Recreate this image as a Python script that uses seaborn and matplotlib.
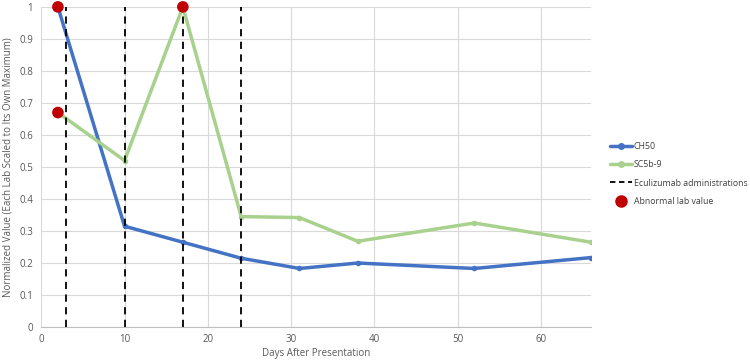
"""
Normalized CH50 and SC5b-9 after presentation
"""

import pandas as pd
import matplotlib.pyplot as plt
from matplotlib.lines import Line2D
from matplotlib.ticker import MultipleLocator
import seaborn as sns

# values
days = [2, 10, 17, 24, 31, 38, 52, 66]
ch50 = [1.0, 0.315, 0.265, 0.215, 0.183, 0.200, 0.183, 0.217]
sc5b9 = [0.67, 0.52, 1.0, 0.345, 0.342, 0.268, 0.325, 0.265]
eculizumab_days = [3, 10, 17, 24]
abnormal_days = [2, 2, 17]
abnormal_vals = [1.0, 0.67, 1.0]

df = pd.DataFrame({"Day": days + days,
                   "Value": ch50 + sc5b9,
                   "Lab": ["CH50"] * len(days) + ["SC5b-9"] * len(days)})

sns.set_style("white")
plt.rcParams["font.family"] = ["Open Sans", "DejaVu Sans"]

fig = plt.figure(figsize=(7.5, 3.63), dpi=100)
ax = fig.add_axes([0.055, 0.099, 0.733, 0.882])

palette = {"CH50": "#4472C4", "SC5b-9": "#A9D18E"}
sns.lineplot(data=df, x="Day", y="Value", hue="Lab", palette=palette,
             marker="o", markersize=4, markeredgewidth=0, linewidth=2.5,
             legend=False, ax=ax, zorder=3)

for d in eculizumab_days:
    ax.axvline(d, color="black", linestyle=(0, (4, 3)), linewidth=1.3, zorder=4)

sns.scatterplot(x=abnormal_days, y=abnormal_vals, color="#C00000", s=70,
                edgecolor="none", ax=ax, zorder=5, clip_on=False)

ax.set_xlim(0, 66)
ax.set_ylim(0, 1)
ax.xaxis.set_major_locator(MultipleLocator(10))
ax.xaxis.set_minor_locator(MultipleLocator(1))
ax.set_yticks([i / 10 for i in range(11)])
ax.set_yticklabels(["0", "0.1", "0.2", "0.3", "0.4", "0.5", "0.6", "0.7", "0.8", "0.9", "1"])
ax.grid(True, which="major", color="#d9d9d9", linewidth=0.8)
for s in ["top", "right", "left"]:
    ax.spines[s].set_visible(False)
ax.spines["bottom"].set_color("#bfbfbf")
ax.tick_params(axis="y", which="major", labelsize=7, colors="#595959", length=0, pad=6)
ax.tick_params(axis="x", which="major", labelsize=7, colors="#595959", length=3,
               color="#bfbfbf", pad=2)
ax.tick_params(axis="x", which="minor", length=3, color="#bfbfbf", direction="out")

ax.set_xlabel("Days After Presentation", fontsize=7, color="#595959", labelpad=2)
ax.set_ylabel("Normalized Value (Each Lab Scaled to Its Own Maximum)", fontsize=7,
              color="#595959", labelpad=4)

handles = [
    Line2D([], [], color="#4472C4", marker="o", markersize=4, linewidth=2.5),
    Line2D([], [], color="#A9D18E", marker="o", markersize=4, linewidth=2.5),
    Line2D([], [], color="black", linestyle=(0, (3, 2)), linewidth=1.3),
    Line2D([], [], color="#C00000", marker="o", markersize=8, linestyle="none"),
]
labels = ["CH50", "SC5b-9", "Eculizumab administrations", "Abnormal lab value"]
fig.legend(handles, labels, loc="upper left", bbox_to_anchor=(0.808, 0.618),
           frameon=False, fontsize=6.3, handlelength=2.6, handletextpad=0.2,
           labelspacing=1.05, labelcolor="#404040", borderaxespad=0)

plt.savefig("out.png", dpi=100)
